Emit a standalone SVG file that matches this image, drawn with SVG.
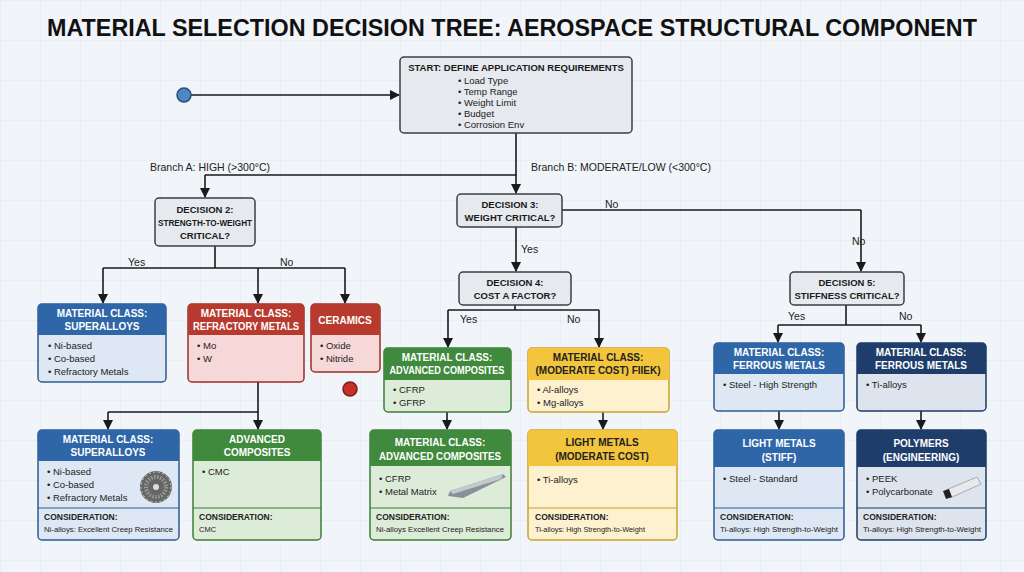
<svg xmlns="http://www.w3.org/2000/svg" width="1024" height="572" viewBox="0 0 1024 572">
<defs>
<pattern id="grid" width="40" height="40" patternUnits="userSpaceOnUse"><path d="M40 0H0V40" fill="none" stroke="#e2e8ef" stroke-width="1"/></pattern>
<marker id="ah" markerWidth="10" markerHeight="10" refX="9" refY="5" orient="auto" markerUnits="userSpaceOnUse"><path d="M0 0L10 5L0 10z" fill="#1a1a1a"/></marker>
</defs>
<style>
text{font-family:"Liberation Sans",Arial,sans-serif;}
.title{font-size:23px;font-weight:bold;fill:#111}
.dec{fill:#e6e9ee;stroke:#3a3f46;stroke-width:1.5}
.dt{font-size:9.5px;font-weight:bold;fill:#1a1a1a;text-anchor:middle}
.it{font-size:9.5px;fill:#222}
.lbl{font-size:10.5px;fill:#222}
.ht{font-size:10px;font-weight:bold;fill:#fff;text-anchor:middle}
.htd{font-size:10px;font-weight:bold;fill:#222;text-anchor:middle}
.ct{font-size:8.5px;font-weight:bold;fill:#222}
.cs{font-size:7.5px;fill:#222}
.ln{fill:none;stroke:#1a1a1a;stroke-width:1.6}
.arr{marker-end:url(#ah)}
</style>
<rect width="1024" height="572" fill="#f1f4f8"/>
<rect width="1024" height="572" fill="url(#grid)"/>
<text class="title" x="512" y="36" text-anchor="middle" textLength="930" lengthAdjust="spacingAndGlyphs">MATERIAL SELECTION DECISION TREE: AEROSPACE STRUCTURAL COMPONENT</text>

<g id="connectors">
<line class="ln arr" x1="191" y1="95" x2="399" y2="95"/>
<path class="ln" d="M516 133V175H205"/>
<line class="ln arr" x1="516" y1="175" x2="516" y2="193"/>
<line class="ln arr" x1="205" y1="175" x2="205" y2="197"/>
<path class="ln" d="M215 246V268M103 268H345"/>
<line class="ln arr" x1="103" y1="268" x2="103" y2="303"/>
<line class="ln arr" x1="258" y1="268" x2="258" y2="303"/>
<line class="ln arr" x1="345" y1="268" x2="345" y2="303"/>
<path class="ln" d="M258 382V412H108"/>
<line class="ln arr" x1="108" y1="412" x2="108" y2="429"/>
<line class="ln arr" x1="258" y1="412" x2="258" y2="429"/>
<path class="ln" d="M562 210H861"/>
<line class="ln arr" x1="861" y1="210" x2="861" y2="271"/>
<line class="ln arr" x1="516" y1="227" x2="516" y2="271"/>
<path class="ln" d="M515 305V310M448 310H599"/>
<line class="ln arr" x1="448" y1="310" x2="448" y2="347"/>
<line class="ln arr" x1="599" y1="310" x2="599" y2="347"/>
<line class="ln arr" x1="447" y1="412" x2="447" y2="429"/>
<line class="ln arr" x1="603" y1="412" x2="603" y2="429"/>
<path class="ln" d="M846 305V325M778 325H921"/>
<line class="ln arr" x1="778" y1="325" x2="778" y2="342"/>
<line class="ln arr" x1="921" y1="325" x2="921" y2="342"/>
<line class="ln arr" x1="779" y1="411" x2="779" y2="429"/>
<line class="ln arr" x1="921" y1="411" x2="921" y2="429"/>
<text class="lbl" x="150" y="171">Branch A: HIGH (&gt;300°C)</text>
<text class="lbl" x="531" y="171">Branch B: MODERATE/LOW (&lt;300°C)</text>
<text class="lbl" x="128" y="266">Yes</text>
<text class="lbl" x="280" y="266">No</text>
<text class="lbl" x="605" y="208">No</text>
<text class="lbl" x="852" y="245">No</text>
<text class="lbl" x="521" y="253">Yes</text>
<text class="lbl" x="460" y="323">Yes</text>
<text class="lbl" x="567" y="323">No</text>
<text class="lbl" x="788" y="320">Yes</text>
<text class="lbl" x="899" y="320">No</text>
</g>

<g id="start-dot"><circle cx="184" cy="95" r="7" fill="#4f86c6" stroke="#2a4f7a" stroke-width="1.5"/></g>
<g id="end-dot"><circle cx="350" cy="389" r="7" fill="#c8302a" stroke="#7a1e1a" stroke-width="1.5"/></g>

<g id="start">
<rect class="dec" x="400" y="57" width="232" height="76" rx="4"/>
<text class="dt" x="516" y="71">START: DEFINE APPLICATION REQUIREMENTS</text>
<text class="it" x="458" y="84">• Load Type</text>
<text class="it" x="458" y="95">• Temp Range</text>
<text class="it" x="458" y="106">• Weight Limit</text>
<text class="it" x="458" y="117">• Budget</text>
<text class="it" x="458" y="128">• Corrosion Env</text>
</g>
<g id="decision2"><rect class="dec" x="155" y="198" width="100" height="48" rx="4"/>
<text class="dt" x="205" y="213">DECISION 2:</text><text class="dt" x="205" y="226" textLength="94" lengthAdjust="spacingAndGlyphs">STRENGTH-TO-WEIGHT</text><text class="dt" x="205" y="239">CRITICAL?</text></g>
<g id="decision3"><rect class="dec" x="457" y="194" width="105" height="33" rx="4"/>
<text class="dt" x="510" y="208">DECISION 3:</text><text class="dt" x="510" y="221">WEIGHT CRITICAL?</text></g>
<g id="decision4"><rect class="dec" x="459" y="272" width="112" height="33" rx="4"/>
<text class="dt" x="515" y="286">DECISION 4:</text><text class="dt" x="515" y="299">COST A FACTOR?</text></g>
<g id="decision5"><rect class="dec" x="790" y="272" width="114" height="33" rx="4"/>
<text class="dt" x="847" y="286">DECISION 5:</text><text class="dt" x="847" y="299">STIFFNESS CRITICAL?</text></g>

<g id="superalloys1">
<rect x="38" y="304" width="128" height="78" rx="4" fill="#dde8f4" stroke="#2c5a92" stroke-width="1.5"/>
<path d="M38 335V308a4 4 0 0 1 4-4H162a4 4 0 0 1 4 4V335z" fill="#2e66a8"/>
<text class="ht" x="102" y="317">MATERIAL CLASS:</text><text class="ht" x="102" y="330">SUPERALLOYS</text>
<text class="it" x="48" y="349">• Ni-based</text><text class="it" x="48" y="362">• Co-based</text><text class="it" x="48" y="375">• Refractory Metals</text>
</g>
<g id="refractory">
<rect x="188" y="304" width="116" height="78" rx="4" fill="#f6d8d8" stroke="#9a2f26" stroke-width="1.5"/>
<path d="M188 335V308a4 4 0 0 1 4-4H300a4 4 0 0 1 4 4V335z" fill="#b83a2e"/>
<text class="ht" x="246" y="317">MATERIAL CLASS:</text><text class="ht" x="246" y="330" textLength="106" lengthAdjust="spacingAndGlyphs">REFRACTORY METALS</text>
<text class="it" x="197" y="349">• Mo</text><text class="it" x="197" y="362">• W</text>
</g>
<g id="ceramics">
<rect x="311" y="304" width="69" height="68" rx="4" fill="#f6d8d8" stroke="#9a2f26" stroke-width="1.5"/>
<path d="M311 335V308a4 4 0 0 1 4-4H376a4 4 0 0 1 4 4V335z" fill="#b83a2e"/>
<text class="ht" x="345" y="324">CERAMICS</text>
<text class="it" x="320" y="349">• Oxide</text><text class="it" x="320" y="362">• Nitride</text>
</g>
<g id="adv-comp1">
<rect x="384" y="348" width="127" height="64" rx="4" fill="#dcecd8" stroke="#3d7d39" stroke-width="1.5"/>
<path d="M384 380V352a4 4 0 0 1 4-4H507a4 4 0 0 1 4 4V380z" fill="#3f8a3c"/>
<text class="ht" x="447" y="361">MATERIAL CLASS:</text><text class="ht" x="447" y="374" textLength="115" lengthAdjust="spacingAndGlyphs">ADVANCED COMPOSITES</text>
<text class="it" x="393" y="393">• CFRP</text><text class="it" x="393" y="406">• GFRP</text>
</g>
<g id="moderate-cost">
<rect x="528" y="348" width="141" height="64" rx="4" fill="#fdf1cf" stroke="#c9a12b" stroke-width="1.5"/>
<path d="M528 380V352a4 4 0 0 1 4-4H665a4 4 0 0 1 4 4V380z" fill="#f2c53d"/>
<text class="htd" x="598" y="361">MATERIAL CLASS:</text><text class="htd" x="598" y="374" textLength="125" lengthAdjust="spacingAndGlyphs">(MODERATE COST) FIIEK)</text>
<text class="it" x="537" y="393">• Al-alloys</text><text class="it" x="537" y="406">• Mg-alloys</text>
</g>
<g id="ferrous1">
<rect x="714" y="343" width="130" height="68" rx="4" fill="#dde8f4" stroke="#2c5a92" stroke-width="1.5"/>
<path d="M714 374V347a4 4 0 0 1 4-4H840a4 4 0 0 1 4 4V374z" fill="#2e66a8"/>
<text class="ht" x="779" y="356">MATERIAL CLASS:</text><text class="ht" x="779" y="369">FERROUS METALS</text>
<text class="it" x="723" y="388">• Steel - High Strength</text>
</g>
<g id="ferrous2">
<rect x="857" y="343" width="129" height="68" rx="4" fill="#dde4ee" stroke="#1c3a66" stroke-width="1.5"/>
<path d="M857 374V347a4 4 0 0 1 4-4H982a4 4 0 0 1 4 4V374z" fill="#1e3d6b"/>
<text class="ht" x="921" y="356">MATERIAL CLASS:</text><text class="ht" x="921" y="369">FERROUS METALS</text>
<text class="it" x="866" y="388">• Ti-alloys</text>
</g>

<g id="superalloys2">
<rect x="38" y="430" width="141" height="110" rx="4" fill="#dde8f4" stroke="#2c5a92" stroke-width="1.5"/>
<path d="M38 461V434a4 4 0 0 1 4-4H175a4 4 0 0 1 4 4V461z" fill="#2e66a8"/>
<line x1="38" y1="508" x2="179" y2="508" stroke="#2c5a92"/>
<text class="ht" x="108" y="443">MATERIAL CLASS:</text><text class="ht" x="108" y="456">SUPERALLOYS</text>
<text class="it" x="47" y="475">• Ni-based</text><text class="it" x="47" y="488">• Co-based</text><text class="it" x="47" y="501">• Refractory Metals</text>
<g transform="translate(156,487)"><circle r="16" fill="#666"/><circle r="15" fill="none" stroke="#ccc" stroke-width="1" stroke-dasharray="2 2.5"/><circle r="10" fill="none" stroke="#999" stroke-width="4" stroke-dasharray="1.5 1.5"/><circle r="3" fill="#ddd"/></g>
<text class="ct" x="44" y="520">CONSIDERATION:</text><text class="cs" x="44" y="532" textLength="129" lengthAdjust="spacingAndGlyphs">Ni-alloys: Excellent Creep Resistance</text>
</g>
<g id="adv-comp-cmc">
<rect x="193" y="430" width="128" height="110" rx="4" fill="#dcecd8" stroke="#3d7d39" stroke-width="1.5"/>
<path d="M193 461V434a4 4 0 0 1 4-4H317a4 4 0 0 1 4 4V461z" fill="#3f8a3c"/>
<line x1="193" y1="508" x2="321" y2="508" stroke="#3d7d39"/>
<text class="ht" x="257" y="443">ADVANCED</text><text class="ht" x="257" y="456">COMPOSITES</text>
<text class="it" x="202" y="475">• CMC</text>
<text class="ct" x="199" y="520">CONSIDERATION:</text><text class="cs" x="199" y="532">CMC</text>
</g>
<g id="adv-comp2">
<rect x="370" y="430" width="141" height="110" rx="4" fill="#dcecd8" stroke="#3d7d39" stroke-width="1.5"/>
<path d="M370 466V434a4 4 0 0 1 4-4H507a4 4 0 0 1 4 4V466z" fill="#3f8a3c"/>
<line x1="370" y1="508" x2="511" y2="508" stroke="#3d7d39"/>
<text class="ht" x="440" y="446">MATERIAL CLASS:</text><text class="ht" x="440" y="460" textLength="122" lengthAdjust="spacingAndGlyphs">ADVANCED COMPOSITES</text>
<text class="it" x="379" y="482">• CFRP</text><text class="it" x="379" y="495">• Metal Matrix</text>
<path d="M450 491L503 474L506 477L463 498L448 496z" fill="#8a9098"/><path d="M450 491L503 474L501 479L453 494z" fill="#c4c9cf"/>
<text class="ct" x="376" y="520">CONSIDERATION:</text><text class="cs" x="376" y="532" textLength="128" lengthAdjust="spacingAndGlyphs">Ni-alloys Excellent Creep Resistance</text>
</g>
<g id="light-metals-mod">
<rect x="528" y="430" width="149" height="110" rx="4" fill="#fdf1cf" stroke="#c9a12b" stroke-width="1.5"/>
<path d="M528 466V434a4 4 0 0 1 4-4H673a4 4 0 0 1 4 4V466z" fill="#f2c53d"/>
<line x1="528" y1="508" x2="677" y2="508" stroke="#c9a12b"/>
<text class="htd" x="602" y="446">LIGHT METALS</text><text class="htd" x="602" y="460">(MODERATE COST)</text>
<text class="it" x="537" y="483">• Ti-alloys</text>
<text class="ct" x="535" y="520">CONSIDERATION:</text><text class="cs" x="535" y="532" textLength="110" lengthAdjust="spacingAndGlyphs">Ti-alloys: High Strength-to-Weight</text>
</g>
<g id="light-metals-stiff">
<rect x="714" y="430" width="130" height="110" rx="4" fill="#dde8f4" stroke="#2c5a92" stroke-width="1.5"/>
<path d="M714 467V434a4 4 0 0 1 4-4H840a4 4 0 0 1 4 4V467z" fill="#2e66a8"/>
<line x1="714" y1="508" x2="844" y2="508" stroke="#2c5a92"/>
<text class="ht" x="779" y="447">LIGHT METALS</text><text class="ht" x="779" y="461">(STIFF)</text>
<text class="it" x="723" y="482">• Steel - Standard</text>
<text class="ct" x="720" y="520">CONSIDERATION:</text><text class="cs" x="720" y="532" textLength="118" lengthAdjust="spacingAndGlyphs">Ti-alloys: High Strength-to-Weight</text>
</g>
<g id="polymers">
<rect x="857" y="430" width="129" height="110" rx="4" fill="#dde4ee" stroke="#1c3a66" stroke-width="1.5"/>
<path d="M857 467V434a4 4 0 0 1 4-4H982a4 4 0 0 1 4 4V467z" fill="#1e3d6b"/>
<line x1="857" y1="508" x2="986" y2="508" stroke="#1c3a66"/>
<text class="ht" x="921" y="447">POLYMERS</text><text class="ht" x="921" y="461">(ENGINEERING)</text>
<text class="it" x="866" y="482">• PEEK</text><text class="it" x="866" y="495">• Polycarbonate</text>
<path d="M946 490L977 477L981 484L950 498z" fill="#e8eaec" stroke="#999" stroke-width="0.8"/><path d="M943 491L949 489L952 497L946 499z" fill="#222"/>
<text class="ct" x="863" y="520">CONSIDERATION:</text><text class="cs" x="863" y="532" textLength="118" lengthAdjust="spacingAndGlyphs">Ti-alloys: High Strength-to-Weight</text>
</g>
</svg>
